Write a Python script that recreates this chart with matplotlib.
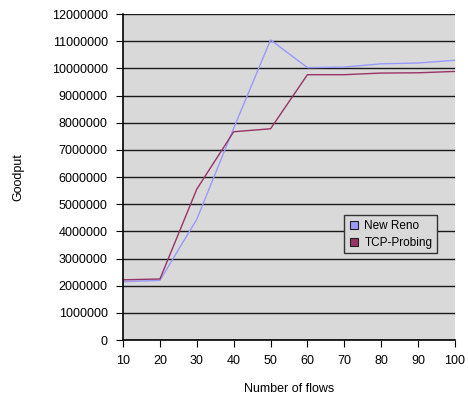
import numpy as np
import matplotlib.pyplot as plt
from matplotlib.lines import Line2D

plt.rcParams['font.family'] = ['Liberation Sans', 'DejaVu Sans']

# data
flows = [10, 20, 30, 40, 50, 60, 70, 80, 90, 100]
new_reno = [2150000, 2200000, 4450000, 7800000, 11050000, 10030000, 10050000, 10170000, 10200000, 10300000]
tcp_probing = [2220000, 2250000, 5560000, 7670000, 7780000, 9770000, 9770000, 9830000, 9840000, 9890000]
names = ['New Reno', 'TCP-Probing']
colors = ['#9999ff', '#993366']

fig = plt.figure(figsize=(4.68, 4.03), dpi=100)
ax = fig.add_axes([0.263, 0.156, 0.709, 0.809])
ax.set_facecolor('#d9d9d9')

ax.plot(flows, new_reno, color=colors[0], lw=1)
ax.plot(flows, tcp_probing, color=colors[1], lw=1)

ax.set_xlim(10, 100)
ax.set_ylim(0, 12000000)
ax.set_xticks(flows)
ax.set_yticks(np.arange(0, 12000001, 1000000))
ax.set_yticklabels([str(v) for v in range(0, 12000001, 1000000)])
ax.yaxis.grid(True, color='#1a1a1a', lw=1)
ax.set_axisbelow(True)

for s in ['top', 'right']:
    ax.spines[s].set_visible(False)
ax.spines['left'].set_linewidth(1.2)
ax.spines['bottom'].set_linewidth(1.2)
ax.tick_params(axis='both', labelsize=9, length=5, direction='out', pad=6)

ax.set_xlabel('Number of flows', fontsize=9, labelpad=11)
ax.set_ylabel('Goodput', fontsize=9, labelpad=20)

# square swatches like the original legend
handles = [Line2D([], [], ls='none', marker='s', markersize=5.5, markerfacecolor=c,
                  markeredgecolor='#222222', markeredgewidth=0.8) for c in colors]
leg = ax.legend(handles, names, loc='upper left', bbox_to_anchor=(0.667, 0.383), fontsize=8.5,
                frameon=True, fancybox=False, facecolor='#d9d9d9', edgecolor='#333333',
                handlelength=0.8, handletextpad=0.5, borderpad=0.4,
                labelspacing=0.4, framealpha=1, borderaxespad=0)

fig.savefig('out.png', dpi=100)
